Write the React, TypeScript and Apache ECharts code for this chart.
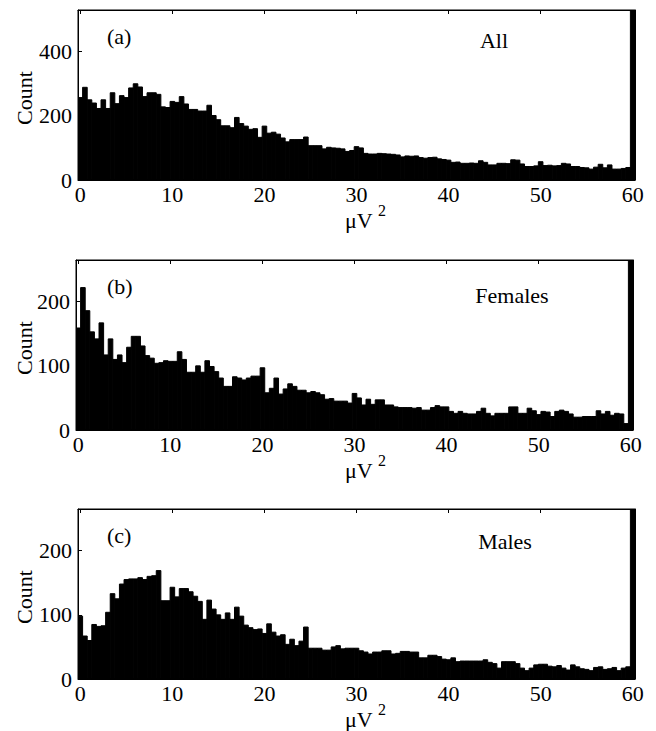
import React, { useEffect, useRef } from "react";
import * as echarts from "echarts";

const BIN_WIDTH = 0.5;
const X_TICKS = [0, 10, 20, 30, 40, 50, 60];
const Y_TICKS_ALL = [0, 200, 400];
const Y_TICKS_SEX = [0, 100, 200];

// counts per 0.5 µV² bin (centres 0, 0.5, ..., 59.5); last value = overflow bin at 60 (off scale)
const allCounts = [
  257, 289, 250, 240, 223, 250, 223, 272, 238, 263,
  257, 287, 300, 290, 260, 272, 272, 267, 228, 226,
  245, 242, 260, 237, 220, 220, 215, 215, 233, 201,
  188, 169, 169, 163, 195, 176, 168, 158, 160, 133,
  168, 146, 149, 143, 131, 119, 126, 126, 126, 134,
  107, 107, 107, 97, 102, 100, 99, 97, 89, 92,
  104, 100, 83, 81, 81, 83, 82, 81, 80, 78,
  72, 75, 74, 75, 70, 68, 70, 71, 66, 64,
  62, 55, 56, 52, 52, 53, 52, 60, 55, 47,
  47, 52, 52, 51, 63, 62, 50, 42, 42, 44,
  57, 45, 46, 44, 45, 52, 50, 42, 42, 39,
  38, 34, 40, 49, 38, 47, 34, 34, 36, 39,
  1000,
];

const femaleCounts = [
  159, 222, 186, 153, 142, 167, 117, 142, 110, 117,
  105, 129, 146, 146, 131, 116, 112, 104, 105, 108,
  107, 107, 122, 110, 90, 90, 100, 90, 108, 99,
  91, 81, 68, 68, 83, 81, 78, 81, 84, 84,
  97, 58, 65, 81, 56, 64, 72, 68, 62, 62,
  58, 60, 58, 55, 48, 49, 45, 45, 45, 42,
  57, 50, 39, 48, 40, 47, 47, 39, 39, 36,
  35, 35, 35, 34, 35, 31, 31, 35, 38, 36,
  36, 29, 26, 29, 26, 25, 25, 29, 34, 26,
  22, 26, 26, 26, 36, 36, 26, 26, 34, 30,
  24, 29, 28, 21, 29, 31, 29, 25, 20, 20,
  21, 21, 21, 30, 25, 29, 23, 26, 25, 10,
  600,
];

const maleCounts = [
  98, 67, 60, 85, 82, 83, 104, 133, 125, 148,
  155, 156, 156, 158, 155, 160, 161, 169, 122, 122,
  143, 128, 141, 141, 136, 129, 121, 93, 123, 109,
  100, 93, 103, 93, 112, 98, 84, 80, 77, 78,
  71, 86, 73, 67, 69, 54, 62, 52, 59, 81,
  48, 48, 48, 45, 45, 50, 52, 47, 48, 48,
  48, 44, 42, 39, 42, 42, 44, 44, 39, 40,
  43, 43, 42, 42, 33, 33, 37, 37, 35, 31,
  30, 33, 27, 28, 28, 28, 28, 28, 30, 26,
  24, 17, 27, 27, 27, 24, 17, 13, 17, 22,
  23, 23, 20, 19, 21, 17, 14, 22, 19, 16,
  15, 13, 18, 19, 15, 16, 18, 13, 17, 19,
  600,
];

const panelLetters = ["(a)", "(b)", "(c)"];
const panelNames = ["All", "Females", "Males"];
const yMaxes = [530, 265, 265];
const FONT = "Liberation Serif";

const panels = [
  { counts: allCounts, yTicks: Y_TICKS_ALL, top: 10, left: 78, right: 21, nameX: 494, nameDy: 30 },
  { counts: femaleCounts, yTicks: Y_TICKS_SEX, top: 260, left: 76, right: 23, nameX: 512, nameDy: 35 },
  { counts: maleCounts, yTicks: Y_TICKS_SEX, top: 509, left: 78, right: 21, nameX: 505, nameDy: 32 },
];
const PLOT_H = 170;

export default function App() {
  const ref = useRef<HTMLDivElement>(null);
  useEffect(() => {
    if (!ref.current) return;
    const chart = echarts.init(ref.current, null, { renderer: "svg" });
    const grids: any[] = [];
    const xAxes: any[] = [];
    const yAxes: any[] = [];
    const series: any[] = [];
    const graphics: any[] = [];
    const axisLineStyle = { color: "#000", width: 1 };
    panels.forEach((p, k) => {
      grids.push({ left: p.left, right: p.right, top: p.top, height: PLOT_H, show: true, borderColor: "#000", borderWidth: 1, backgroundColor: "#fff" });
      const xBase = {
        type: "value", gridIndex: k, min: -BIN_WIDTH / 2, max: 60 + BIN_WIDTH / 2,
        splitLine: { show: false },
        axisLine: { show: true, onZero: false, lineStyle: axisLineStyle },
      };
      xAxes.push({
        ...xBase, position: "bottom",
        axisTick: { show: true, inside: true, length: 4, customValues: X_TICKS, lineStyle: axisLineStyle },
        axisLabel: { show: true, customValues: X_TICKS, fontFamily: FONT, fontSize: 22, color: "#000", margin: 3 },
      });
      xAxes.push({
        ...xBase, position: "top",
        axisTick: { show: true, inside: true, length: 4, customValues: X_TICKS, lineStyle: axisLineStyle },
        axisLabel: { show: false },
      });
      const yBase = {
        type: "value", gridIndex: k, min: 0, max: yMaxes[k],
        splitLine: { show: false },
        axisLine: { show: true, onZero: false, lineStyle: axisLineStyle },
      };
      yAxes.push({
        ...yBase, position: "left",
        axisTick: { show: true, inside: true, length: 4, customValues: p.yTicks, lineStyle: axisLineStyle },
        axisLabel: { show: true, customValues: p.yTicks, fontFamily: FONT, fontSize: 22, color: "#000", margin: 6 },
      });
      yAxes.push({
        ...yBase, position: "right",
        axisTick: { show: true, inside: true, length: 4, customValues: p.yTicks, lineStyle: axisLineStyle },
        axisLabel: { show: false },
      });
      const data = p.counts.map((v, i) => [i * BIN_WIDTH, v]);
      series.push({
        type: "custom",
        xAxisIndex: 2 * k,
        yAxisIndex: 2 * k,
        data,
        clip: true,
        renderItem: (params: any, api: any) => {
          const c = api.value(0);
          const v = api.value(1);
          const p0 = api.coord([c - BIN_WIDTH / 2, 0]);
          const p1 = api.coord([c + BIN_WIDTH / 2, v]);
          const cs = params.coordSys;
          const rect = echarts.graphic.clipRectByRect(
            { x: p0[0], y: p1[1], width: p1[0] - p0[0], height: p0[1] - p1[1] },
            { x: cs.x, y: cs.y, width: cs.width, height: cs.height }
          );
          if (!rect) return null;
          return { type: "rect", shape: rect, style: { fill: "#000", stroke: "#000", lineWidth: 1 } };
        },
      });
      const bottom = p.top + PLOT_H;
      graphics.push(
        { type: "text", x: 24, y: p.top + 88, rotation: Math.PI / 2, style: { text: "Count", fontFamily: FONT, fontSize: 22, fill: "#000", align: "center", verticalAlign: "middle" } },
        { type: "text", x: 345, y: bottom + 40, style: { text: "\u03bcV", fontFamily: FONT, fontSize: 22, fill: "#000", align: "left", verticalAlign: "middle" } },
        { type: "text", x: 378, y: bottom + 30, style: { text: "2", fontFamily: FONT, fontSize: 16, fill: "#000", align: "left", verticalAlign: "middle" } },
        { type: "text", x: 107, y: p.top + 26, style: { text: panelLetters[k], fontFamily: FONT, fontSize: 22, fill: "#000", align: "left", verticalAlign: "middle" } },
        { type: "text", x: p.nameX, y: p.top + p.nameDy, style: { text: panelNames[k], fontFamily: FONT, fontSize: 22, fill: "#000", align: "center", verticalAlign: "middle" } }
      );
    });
    chart.setOption({
      animation: false,
      backgroundColor: "#fff",
      grid: grids,
      xAxis: xAxes,
      yAxis: yAxes,
      series,
      graphic: graphics,
    });
    return () => chart.dispose();
  }, []);
  return <div ref={ref} style={{ position: "absolute", left: 0, top: 0, width: 656, height: 731, background: "#fff" }} />;
}
